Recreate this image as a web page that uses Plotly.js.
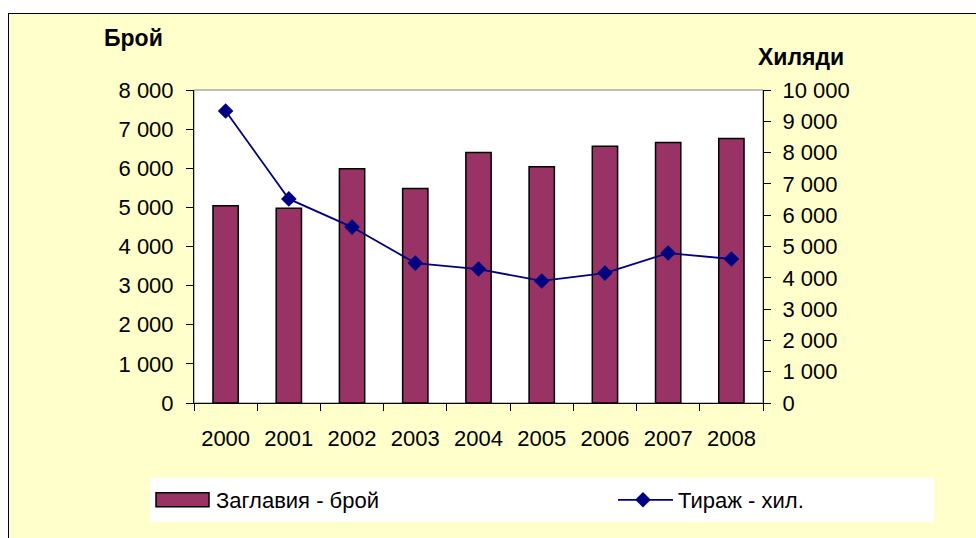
<!DOCTYPE html>
<html><head><meta charset="utf-8">
<script src="https://cdn.plot.ly/plotly-3.0.1.min.js"></script>
<style>
body{margin:0;background:#fff;overflow:hidden}
#frame{position:absolute;left:8px;top:13px;width:1000px;height:560px;border-left:1px solid #000;border-top:1px solid #000;background:#FFFFCC}
#chart{position:absolute;left:0;top:0;width:976px;height:538px}
</style>
</head><body>
<div id="frame"></div><div id="chart"></div>
<script>
const years = ['2000','2001','2002','2003','2004','2005','2006','2007','2008'];
const titlesCount = [5040, 4980, 5990, 5480, 6400, 6040, 6560, 6660, 6760];
const circulation = [9330, 6520, 5620, 4470, 4280, 3900, 4150, 4790, 4600];
const seriesNames = ['Заглавия - брой', 'Тираж - хил.'];
const leftTitle = 'Брой';
const rightTitle = 'Хиляди';

const F = 'Liberation Sans, Arial, sans-serif';
const L = 194, R = 763, T = 90, B = 403, W = 976, H = 538;
const px = x => (x - L) / (R - L);
const py = y => (B - y) / (B - T);

const traces = [
  {type:'bar', x:years, y:titlesCount, name:seriesNames[0], xaxis:'x', yaxis:'y', legend:'legend',
   marker:{color:'#993366', line:{color:'#000', width:1.5}}},
  {type:'scatter', mode:'lines+markers', x:years, y:circulation, name:seriesNames[1], xaxis:'x', yaxis:'y2', legend:'legend2',
   line:{color:'#000080', width:1.8}, marker:{symbol:'diamond', size:12, color:'#000080'}}
];

const tickFont = {family:F, size:22, color:'#000'};
const legFont = {family:F, size:22, color:'#000'};
const layout = {
  width:W, height:H,
  margin:{l:L, r:W-R, t:T, b:H-B, pad:0, autoexpand:false},
  paper_bgcolor:'rgba(0,0,0,0)', plot_bgcolor:'#fff',
  separators:', ',
  bargap:0.6,
  showlegend:true,
  xaxis:{type:'category', range:[-0.5,8.5], tickson:'boundaries', ticks:'outside', ticklen:7, tickcolor:'#000',
         showline:true, linecolor:'#000', linewidth:1, tickfont:tickFont, ticklabelstandoff:16, showgrid:false, zeroline:false, fixedrange:true},
  xaxis2:{overlaying:'x', anchor:'y', side:'bottom', range:[-0.5,8.5], tick0:-0.5, dtick:1, ticks:'inside', ticklen:7,
          tickcolor:'#000', showticklabels:false, showgrid:false, zeroline:false, showline:false},
  yaxis:{range:[0,8000], dtick:1000, tickformat:',d', ticks:'outside', ticklen:7, tickcolor:'#000', showline:true,
         linecolor:'#000', linewidth:1, showgrid:false, zeroline:false, tickfont:tickFont, ticklabelstandoff:8},
  yaxis2:{overlaying:'y', side:'right', anchor:'x', range:[0,10000], dtick:1000, tickformat:',d', ticks:'outside', ticklen:7,
          tickcolor:'#000', showline:true, linecolor:'#000', linewidth:1, showgrid:false, zeroline:false, tickfont:tickFont, ticklabelstandoff:7},
  yaxis3:{overlaying:'y', side:'left', anchor:'x', range:[0,8000], dtick:1000, ticks:'inside', ticklen:7, tickcolor:'#000',
          showticklabels:false, showgrid:false, zeroline:false, showline:false},
  yaxis4:{overlaying:'y', side:'right', anchor:'x', range:[0,10000], dtick:1000, ticks:'inside', ticklen:7, tickcolor:'#000',
          showticklabels:false, showgrid:false, zeroline:false, showline:false},
  legend:{orientation:'h', x:px(176), xanchor:'left', y:py(500), yanchor:'middle', bgcolor:'rgba(0,0,0,0)', font:legFont},
  legend2:{orientation:'h', x:px(638), xanchor:'left', y:py(500), yanchor:'middle', bgcolor:'rgba(0,0,0,0)', font:legFont},
  shapes:[
    {type:'rect', xref:'paper', yref:'paper', x0:px(150), x1:px(934), y0:py(478), y1:py(522), fillcolor:'#fff', line:{width:0}, layer:'below'},
    {type:'rect', xref:'paper', yref:'paper', x0:0, x1:1, y0:0, y1:1, line:{color:'#808080', width:1}, fillcolor:'rgba(0,0,0,0)', layer:'below'}
  ],
  annotations:[
    {text:'<b>'+leftTitle+'</b>', xref:'paper', yref:'paper', x:px(133), y:py(38), xanchor:'center', yanchor:'middle', showarrow:false,
     font:{family:F, size:23, color:'#000'}},
    {text:'<b>'+rightTitle+'</b>', xref:'paper', yref:'paper', x:px(801), y:py(57), xanchor:'center', yanchor:'middle', showarrow:false,
     font:{family:F, size:23, color:'#000'}}
  ]
};
Plotly.newPlot('chart', traces, layout, {displayModeBar:false, staticPlot:true}).then(gd => {
  // widen legend keys to look like the original legend
  gd.querySelectorAll('g.legend, g.legend2').forEach(lg => {
    lg.querySelectorAll('[clip-path]').forEach(el => el.removeAttribute('clip-path'));
    lg.removeAttribute('clip-path');
    lg.querySelectorAll('.traces').forEach(tr => {
      const lines = tr.querySelector('.legendlines path');
      const pt = tr.querySelector('.legendpoints path');
      if (lines && lines.getAttribute('d')) {
        lines.setAttribute('d', 'M-20,0h55');
        if (pt) pt.setAttribute('transform', 'translate(5,0)');
      } else if (pt) {
        pt.setAttribute('d', 'M-40,7H13V-7H-40Z');
        pt.style.strokeWidth = '1.5px';
        pt.style.stroke = '#000';
      }
    });
  });
});
</script>
</body></html>
